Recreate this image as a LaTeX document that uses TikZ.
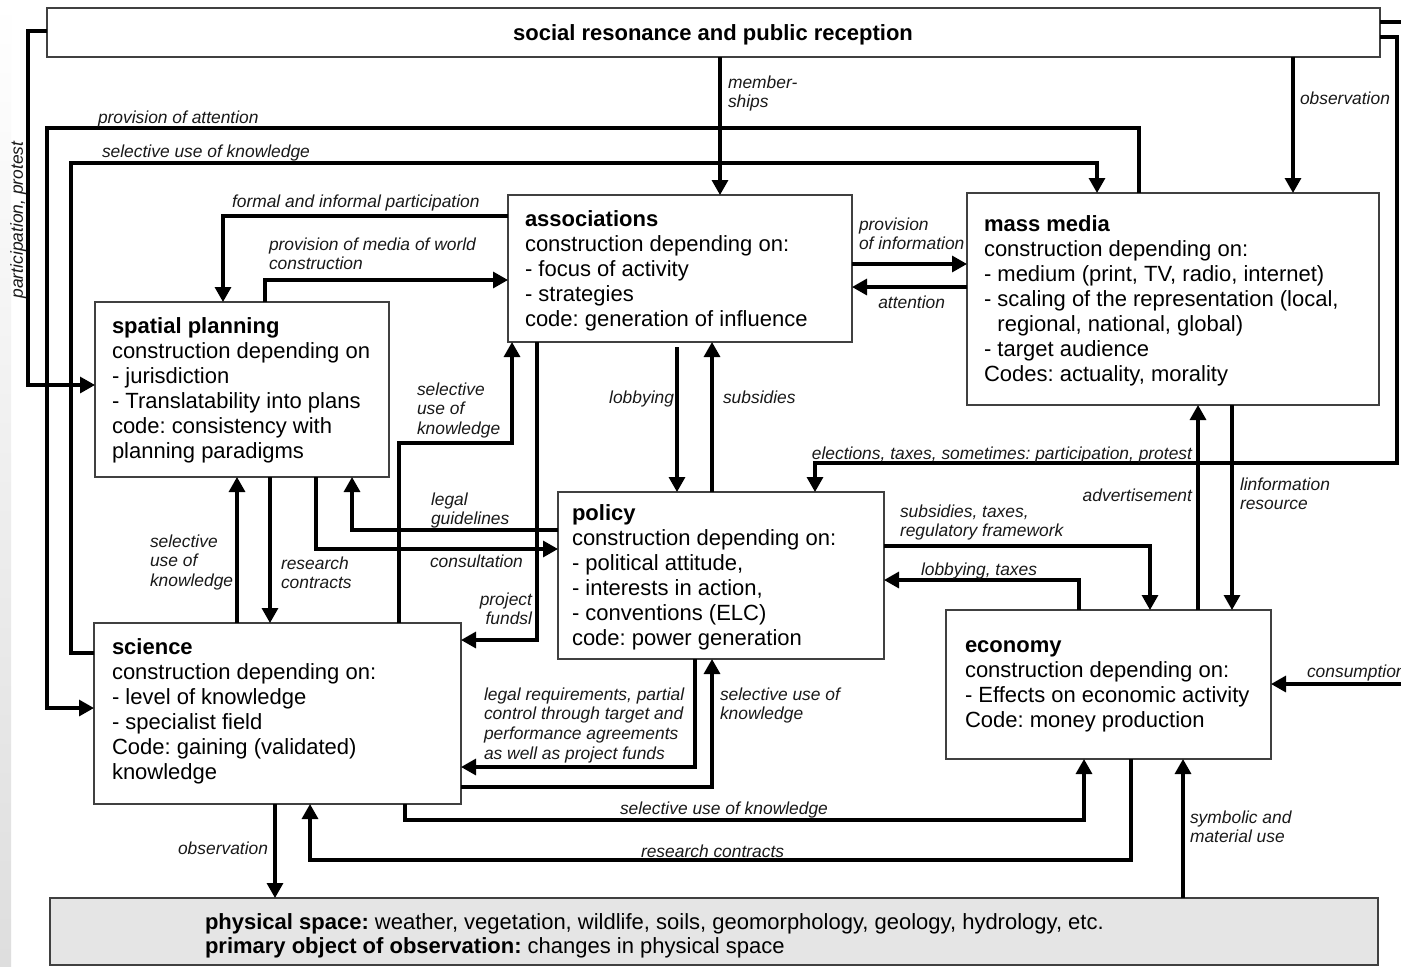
\documentclass[tikz,border=0pt]{standalone}
\usepackage{fontspec}
\setmainfont{Liberation Sans}
\usetikzlibrary{arrows.meta}
\begin{document}
\begin{tikzpicture}[x=1pt,y=-1pt,
  box/.style={draw=black!75, line width=1.4pt, inner sep=0pt, outer sep=0pt, anchor=north west, fill=white},
  body/.style={inner sep=0pt, outer sep=0pt, anchor=base west, align=left, font=\fontsize{22}{25}\selectfont\frenchspacing},
  lbl/.style={inner sep=0pt, outer sep=0pt, anchor=base west, align=left, text=black!90, font=\fontsize{17.4}{19.7}\selectfont\itshape\frenchspacing},
  lblr/.style={lbl, anchor=base east, align=right},
  conn/.style={line width=3.2pt, -{Triangle[width=16pt,length=15pt]}},
  plain/.style={line width=3.2pt},
]
% page and margin strip
\fill[white] (0,0) rectangle (1401,967);
\shade[top color=white, bottom color=black!13] (0,0) rectangle (11,967);
\useasboundingbox (0,0) rectangle (1401,967);

% ---------- boxes ----------
\node[box, minimum width=1333pt, minimum height=49pt] (soc) at (47,8) {};
\node[box, minimum width=344pt, minimum height=147pt] (assoc) at (508,195) {};
\node[box, minimum width=412pt, minimum height=212pt] (media) at (967,193) {};
\node[box, minimum width=294pt, minimum height=175pt] (plan) at (95,302) {};
\node[box, minimum width=326pt, minimum height=167pt] (policy) at (558,492) {};
\node[box, minimum width=367pt, minimum height=181pt] (sci) at (94,623) {};
\node[box, minimum width=325pt, minimum height=149pt] (econ) at (946,610) {};
\node[box, minimum width=1328pt, minimum height=67pt, fill=black!10] (phys) at (50,898) {};

% free ends at the right margin
\coordinate (edgeA) at (1402,22);
\coordinate (edgeB) at (1402,684);

% ---------- box texts (anchored on the baseline of the last line) ----------
\node[body, anchor=base, font=\fontsize{22}{25}\selectfont\bfseries] (socT) at (713,40.5) {social resonance and public reception};
\node[body] (assocT) at (525,326) {{\bfseries associations}\\construction depending on:\\- focus of activity\\- strategies\\code: generation of influence};
\node[body] (mediaT) at (984,381) {{\bfseries mass media}\\construction depending on:\\- medium (print, TV, radio, internet)\\- scaling of the representation (local,\\\hphantom{- }regional, national, global)\\- target audience\\Codes: actuality, morality};
\node[body] (planT) at (112,458) {{\bfseries spatial planning}\\construction depending on\\- jurisdiction\\- Translatability into plans\\code: consistency with\\planning paradigms};
\node[body] (policyT) at (572,645) {{\bfseries policy}\\construction depending on:\\- political attitude,\\- interests in action,\\- conventions (ELC)\\code: power generation};
\node[body] (sciT) at (112,779) {{\bfseries science}\\construction depending on:\\- level of knowledge\\- specialist field\\Code: gaining (validated)\\knowledge};
\node[body] (econT) at (965,727) {{\bfseries economy}\\construction depending on:\\- Effects on economic activity\\Code: money production};
\node[body, font=\fontsize{22}{24}\selectfont\frenchspacing] (physT) at (205,953) {{\bfseries physical space:} weather, vegetation, wildlife, soils, geomorphology, geology, hydrology, etc.\\{\bfseries primary object of observation:} changes in physical space};

% ---------- connectors ----------
% society -> spatial planning
\draw[conn] (soc.west |- 0,31) -| (28,385) -- (plan.west |- 0,385);
% mass media -> science
\draw[conn] (media.north -| 1139,0) |- (47,128) |- (sci.west |- 0,708);
% science -> mass media
\draw[conn] (sci.west |- 0,653) -| (71,163) -| (media.north -| 1097,0);
% associations <-> spatial planning
\draw[conn] (assoc.west |- 0,216) -| (plan.north -| 223,0);
\draw[conn] (plan.north -| 265,0) |- (assoc.west |- 0,280);
% society -> associations, mass media
\draw[conn] (soc.south -| 720,0) -- (assoc.north -| 720,0);
\draw[conn] (soc.south -| 1293,0) -- (media.north -| 1293,0);
% associations <-> mass media
\draw[conn] (assoc.east |- 0,264) -- (media.west |- 0,264);
\draw[conn] (media.west |- 0,287) -- (assoc.east |- 0,287);
% associations <-> policy
\draw[conn, shorten <=5pt] (assoc.south -| 677,0) -- (policy.north -| 677,0);
\draw[conn] (policy.north -| 712,0) -- (assoc.south -| 712,0);
% science <-> associations
\draw[conn] (sci.north -| 399,0) |- (512,443) -- (assoc.south -| 512,0);
\draw[conn] (assoc.south -| 537,0) |- (sci.east |- 0,640);
% policy <-> spatial planning
\draw[conn] (policy.west |- 0,530) -| (plan.south -| 352,0);
\draw[conn] (plan.south -| 316,0) |- (policy.west |- 0,549);
% science <-> spatial planning
\draw[conn] (sci.north -| 237,0) -- (plan.south -| 237,0);
\draw[conn] (plan.south -| 270,0) -- (sci.north -| 270,0);
% policy <-> science
\draw[conn] (policy.south -| 695,0) |- (sci.east |- 0,767);
\draw[conn] (sci.east |- 0,787) -| (policy.south -| 712,0);
% science <-> economy
\draw[conn] (sci.south -| 405,0) |- (1084,820) -- (econ.south -| 1084,0);
\draw[conn] (econ.south -| 1131,0) |- (310,860) -- (sci.south -| 310,0);
% physical space
\draw[conn] (sci.south -| 275,0) -- (phys.north -| 275,0);
\draw[conn] (phys.north -| 1183,0) -- (econ.south -| 1183,0);
% policy <-> economy
\draw[conn] (policy.east |- 0,546) -| (econ.north -| 1150,0);
\draw[conn] (econ.north -| 1079,0) |- (policy.east |- 0,580);
% economy <-> mass media
\draw[conn] (econ.north -| 1198,0) -- (media.south -| 1198,0);
\draw[conn] (media.south -| 1232,0) -- (econ.north -| 1232,0);
% society -> policy
\draw[conn] (soc.east |- 0,37) -| (1397,463) -| (policy.north -| 815,0);
% right margin
\draw[plain] (soc.east |- 0,22) -- (edgeA);
\draw[conn] (edgeB) -- (econ.east |- 0,684);

% ---------- connector labels (anchored on the baseline of the last line) ----------
\node[lbl, rotate=90, anchor=base] (lPart) at (23,220) {participation, protest};
\node[lbl] (lAtt) at (98,123) {provision of attention};
\node[lbl] (lSelTop) at (102,157) {selective use of knowledge};
\node[lbl] (lFormal) at (232,207) {formal and informal participation};
\node[lbl] (lMediaW) at (269,269.7) {provision of media of world\\construction};
\node[lbl] (lMember) at (728,107.7) {member-\\ships};
\node[lbl] (lObsTop) at (1300,104) {observation};
\node[lbl] (lProvInf) at (859,249.7) {provision\\of information};
\node[lblr] (lAttn) at (945,308) {attention};
\node[lbl] (lSelAssoc) at (417,434.4) {selective\\use of\\knowledge};
\node[lblr] (lLobby) at (674,403) {lobbying};
\node[lbl] (lSubs) at (723,403) {subsidies};
\node[lblr] (lElect) at (1192,459) {elections, taxes, sometimes: participation, protest};
\node[lbl] (lLegal) at (431,524.7) {legal\\guidelines};
\node[lbl] (lConsult) at (430,567) {consultation};
\node[lblr] (lFunds) at (532,624.7) {project\\fundsl};
\node[lbl] (lSelPlan) at (150,586.4) {selective\\use of\\knowledge};
\node[lbl] (lResPlan) at (281,588.7) {research\\contracts};
\node[lbl] (lSubsTax) at (900,536.7) {subsidies, taxes,\\regulatory framework};
\node[lbl] (lLobTax) at (921,575) {lobbying, taxes};
\node[lblr] (lAdv) at (1192,501) {advertisement};
\node[lbl] (lInfo) at (1240,509.7) {linformation\\resource};
\node[lbl] (lCons) at (1307,677) {consumption};
\node[lbl] (lLegalReq) at (484,759.1) {legal requirements, partial\\control through target and\\performance agreements\\as well as project funds};
\node[lbl] (lSelPol) at (720,719.7) {selective use of\\knowledge};
\node[lbl] (lSelEcon) at (620,814) {selective use of knowledge};
\node[lbl] (lResEcon) at (641,857) {research contracts};
\node[lblr] (lObsSci) at (268,854) {observation};
\node[lbl] (lSymb) at (1190,842.7) {symbolic and\\material use};
\end{tikzpicture}
\end{document}
